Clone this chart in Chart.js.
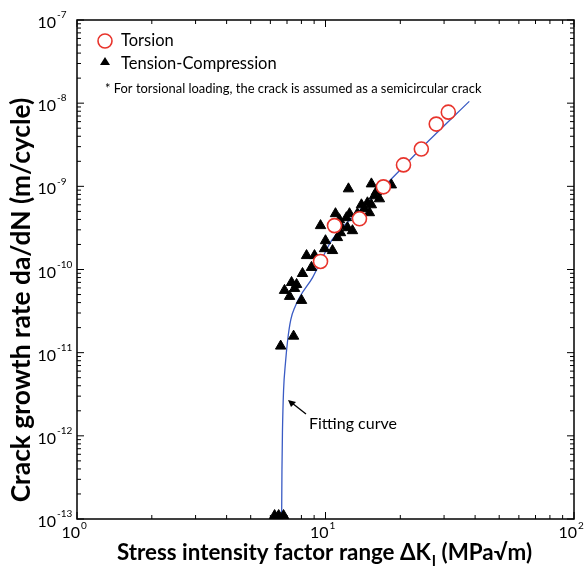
<!DOCTYPE html>
<html>
<head>
<meta charset="utf-8">
<script src="https://cdn.jsdelivr.net/npm/chart.js@4.4.0/dist/chart.umd.min.js"></script>
<style>
  html, body { margin: 0; padding: 0; background: #fff; }
  #wrap { width: 586px; height: 577px; }
</style>
</head>
<body>
<div id="wrap"><canvas id="crackChart" width="586" height="577"></canvas></div>
<script>
// torsion tests (open red circles), dK in MPa*sqrt(m), rate in m/cycle
const torsionDK = [9.55, 10.87, 13.7, 17.1, 20.6, 24.3, 27.9, 31.2];
const torsionRate = [1.25e-10, 3.37e-10, 4.07e-10, 9.86e-10, 1.81e-9, 2.81e-9, 5.6e-9, 7.8e-9];

// tension-compression tests (black triangles)
const tcDK = [12.37, 15.30, 18.41, 16.03, 15.73, 16.48, 14.75, 13.95, 15.30, 14.34,
  15.02, 13.44, 12.49, 10.97, 12.14, 11.38, 9.55, 11.49, 12.26, 12.84,
  11.49, 11.17, 10.0, 9.91, 10.67, 8.39, 9.03, 8.78, 8.08, 7.30,
  7.65, 6.84, 7.51, 7.17, 8.01, 6.60, 7.44, 6.24, 6.48, 6.78];
const tcRate = [9.33e-10, 1.07e-9, 1.04e-9, 8.59e-10, 7.69e-10, 7.08e-10, 6.34e-10, 6.0e-10, 6.0e-10, 5.38e-10,
  4.82e-10, 4.69e-10, 4.69e-10, 4.69e-10, 4.2e-10, 3.97e-10, 3.37e-10, 3.37e-10, 3.18e-10, 2.93e-10,
  2.77e-10, 2.42e-10, 2.22e-10, 1.78e-10, 1.69e-10, 1.47e-10, 1.47e-10, 1.06e-10, 8.95e-11, 6.98e-11,
  6.61e-11, 5.61e-11, 5.92e-11, 4.75e-11, 4.25e-11, 1.20e-11, 1.58e-11, 1.1e-13, 1.1e-13, 1.1e-13];

// fitting curve
const fitDK = [6.66, 6.68, 6.71, 6.78, 6.90, 7.04, 7.25, 7.55, 7.95, 8.87, 9.73, 10.57, 13.69, 18.07, 26.2, 37.9];
const fitRate = [1e-13, 3.9e-13, 1.09e-12, 3.5e-12, 7.5e-12, 1.4e-11, 2.5e-11, 3.6e-11, 4.9e-11, 8.0e-11, 1.39e-10, 2.22e-10, 5.09e-10, 1.16e-9, 3.6e-9, 1.05e-8];

// decade exponents for the tick labels
const xExps = [0, 1, 2];
const yExps = [-13, -12, -11, -10, -9, -8, -7];

const FONT = 'Lato, "Open Sans", sans-serif';
const RED = '#e8342c';
const BLUE = '#3a5bc4';

function pts(xs, ys) {
    return xs.map((v, i) => ({x: v, y: ys[i]}))
}

function minorValues(exps) {
    let out = [];
    for (let i = 0; i < exps.length - 1; i++) {
        for (let k = 2; k <= 9; k++) out.push(k * Math.pow(10, exps[i]));
    }
    return out;
}

// font size that makes text about `width` px wide
function fitSize(ctx, text, weight, width) {
    ctx.font = weight + ' 20px ' + FONT;
    return 20 * width / ctx.measureText(text).width;
}

// frame with inward ticks, drawn under the markers
const framePlugin = {
    id: 'frame',
    beforeDatasetsDraw(chart) {
        const {ctx, chartArea: a, scales: {x, y}} = chart;
        ctx.save();
        ctx.strokeStyle = '#000';
        ctx.lineWidth = 1.5;
        ctx.strokeRect(a.left, a.top, a.right - a.left, a.bottom - a.top);
        ctx.lineWidth = 1;
        const tick = (px, py, dx, dy) => {
            ctx.beginPath();
            ctx.moveTo(px, py);
            ctx.lineTo(px + dx, py + dy);
            ctx.stroke();
        };
        xExps.forEach(e => {
            const px = x.getPixelForValue(Math.pow(10, e));
            tick(px, a.bottom, 0, -7);
            tick(px, a.top, 0, 7);
        });
        minorValues(xExps).forEach(v => {
            const px = x.getPixelForValue(v);
            tick(px, a.bottom, 0, -4);
            tick(px, a.top, 0, 4);
        });
        yExps.forEach(e => {
            const py = y.getPixelForValue(Math.pow(10, e));
            tick(a.left, py, 7, 0);
            tick(a.right, py, -7, 0);
        });
        minorValues(yExps).forEach(v => {
            const py = y.getPixelForValue(v);
            tick(a.left, py, 4, 0);
            tick(a.right, py, -4, 0);
        });
        ctx.restore();
    },
    afterDraw(chart) {
        const {ctx, chartArea: a, scales: {x, y}} = chart;
        ctx.save();
        ctx.fillStyle = '#000';
        ctx.textBaseline = 'middle';

        // y tick labels 10^n
        yExps.forEach(e => {
            const py = y.getPixelForValue(Math.pow(10, e));
            ctx.font = '16px ' + FONT;
            ctx.textAlign = 'right';
            ctx.fillText('10', a.left - 21, py + 3);
            ctx.font = '10px ' + FONT;
            ctx.textAlign = 'left';
            ctx.fillText(String(e), a.left - 20, py - 5);
        });
        // x tick labels 10^n
        xExps.forEach(e => {
            const px = x.getPixelForValue(Math.pow(10, e));
            ctx.font = '16px ' + FONT;
            ctx.textAlign = 'right';
            ctx.fillText('10', px + 3, a.bottom + 14);
            ctx.font = '10px ' + FONT;
            ctx.textAlign = 'left';
            ctx.fillText(String(e), px + 4, a.bottom + 7);
        });

        // x title with subscript I
        const t1 = 'Stress intensity factor range \u0394K', t2 = 'I', t3 = ' (MPa\u221Am)';
        const big = fitSize(ctx, t1 + t3, 'bold', 410);
        const small = big * 0.65;
        ctx.font = 'bold ' + big + 'px ' + FONT;
        const w1 = ctx.measureText(t1).width, w3 = ctx.measureText(t3).width;
        ctx.font = 'bold ' + small + 'px ' + FONT;
        const w2 = ctx.measureText(t2).width;
        let sx = 324 - (w1 + w2 + w3) / 2;
        const ty = 553;
        ctx.textAlign = 'left';
        ctx.font = 'bold ' + big + 'px ' + FONT;
        ctx.fillText(t1, sx, ty);
        ctx.font = 'bold ' + small + 'px ' + FONT;
        ctx.fillText(t2, sx + w1 + 1, ty + 8);
        ctx.font = 'bold ' + big + 'px ' + FONT;
        ctx.fillText(t3, sx + w1 + w2 + 1, ty);

        // y title
        const yTitle = 'Crack growth rate da/dN (m/cycle)';
        const ySize = fitSize(ctx, yTitle, 'bold', 405);
        ctx.save();
        ctx.translate(21, 300);
        ctx.rotate(-Math.PI / 2);
        ctx.textAlign = 'center';
        ctx.font = 'bold ' + ySize + 'px ' + FONT;
        ctx.fillText(yTitle, 0, 0);
        ctx.restore();

        // legend inside the plot
        ctx.strokeStyle = RED;
        ctx.lineWidth = 1.6;
        ctx.fillStyle = '#fff';
        ctx.beginPath();
        ctx.arc(105, 41, 7, 0, Math.PI * 2);
        ctx.fill();
        ctx.stroke();
        ctx.fillStyle = '#000';
        ctx.beginPath();
        ctx.moveTo(105, 57);
        ctx.lineTo(110, 65);
        ctx.lineTo(100, 65);
        ctx.closePath();
        ctx.fill();
        ctx.font = '16.5px ' + FONT;
        ctx.textAlign = 'left';
        ctx.fillText('Torsion', 121, 41);
        ctx.fillText('Tension-Compression', 121, 64);
        const note = '* For torsional loading, the crack is assumed as a semicircular crack';
        ctx.font = fitSize(ctx, note, '', 377) + 'px ' + FONT;
        ctx.fillText(note, 105, 89);

        // fitting curve annotation
        ctx.font = '16px ' + FONT;
        ctx.fillText('Fitting curve', 309, 424);
        ctx.strokeStyle = '#000';
        ctx.lineWidth = 1.3;
        ctx.beginPath();
        ctx.moveTo(306, 414);
        ctx.lineTo(292, 403);
        ctx.stroke();
        ctx.beginPath();
        ctx.moveTo(288, 400);
        ctx.lineTo(296, 402);
        ctx.lineTo(291, 407);
        ctx.closePath();
        ctx.fill();
        ctx.restore();
    }
};

const ctx = document.getElementById('crackChart').getContext('2d');
new Chart(ctx, {
    type: 'scatter',
    data: {
        datasets: [
            {
                label: 'Torsion',
                data: pts(torsionDK, torsionRate),
                pointStyle: 'circle',
                pointRadius: 7,
                borderWidth: 1.6,
                borderColor: RED,
                backgroundColor: '#fff',
                order: 1,
            },
            {
                label: 'Tension-Compression',
                data: pts(tcDK, tcRate),
                pointStyle: 'triangle',
                pointRadius: 6,
                borderWidth: 1,
                borderColor: '#000',
                backgroundColor: '#000',
                clip: false,
                order: 2,
            },
            {
                label: 'Fitting curve',
                data: pts(fitDK, fitRate),
                showLine: true,
                pointRadius: 0,
                borderColor: BLUE,
                borderWidth: 1.3,
                cubicInterpolationMode: 'monotone',
                order: 3,
            },
        ],
    },
    options: {
        responsive: false,
        animation: false,
        layout: {
            padding: {left: 77, top: 20, right: 12, bottom: 58},
        },
        scales: {
            x: {type: 'logarithmic', min: 1, max: 100, display: false},
            y: {type: 'logarithmic', min: 1e-13, max: 1e-7, display: false},
        },
        plugins: {
            legend: {display: false},
            tooltip: {enabled: false},
        },
    },
    plugins: [framePlugin],
});
</script>
</body>
</html>
